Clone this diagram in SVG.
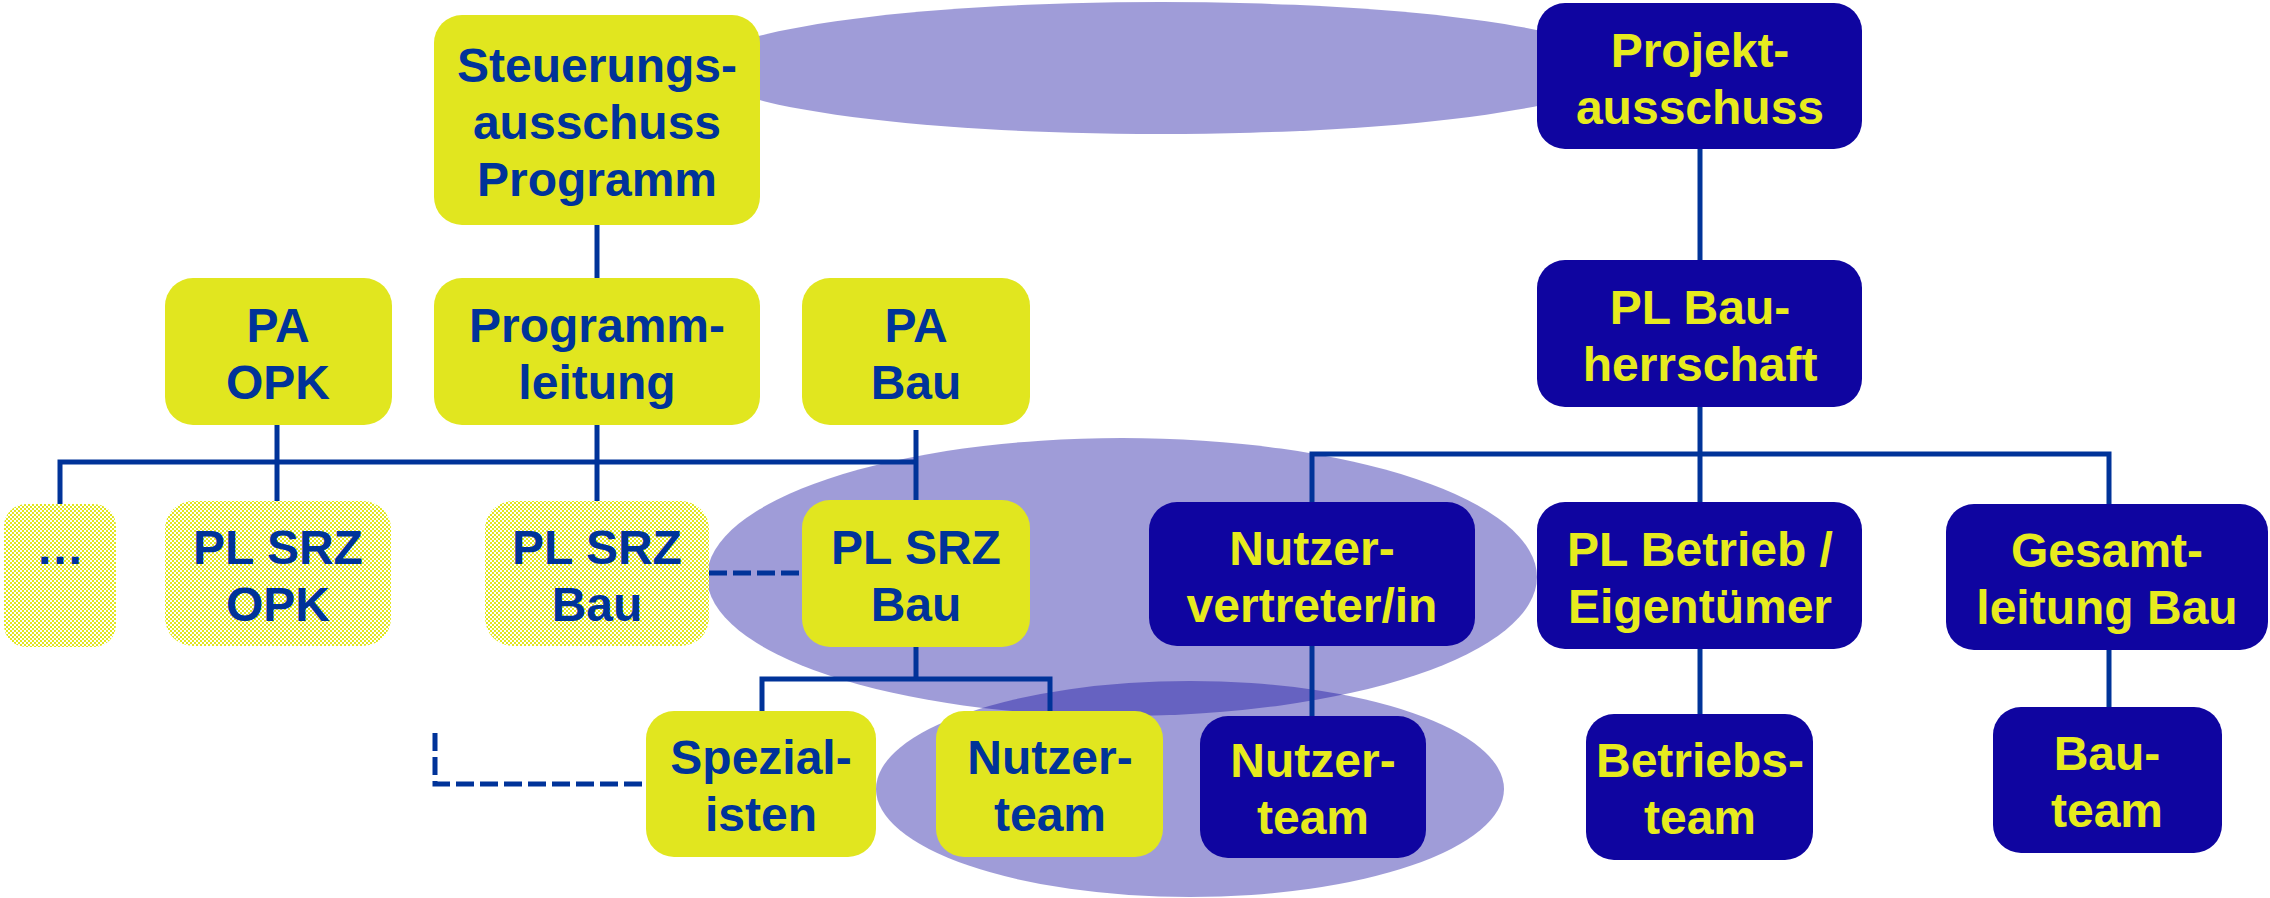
<svg xmlns="http://www.w3.org/2000/svg" width="2270" height="898" viewBox="0 0 2270 898">
<style>
.y{fill:#e1e61f}
.d{fill:#0f05a0}
.h{fill:url(#chk)}
.ty{font-family:"Liberation Sans",Arial,sans-serif;font-weight:bold;font-size:48px;fill:#003399;text-anchor:middle}
.td{font-family:"Liberation Sans",Arial,sans-serif;font-weight:bold;font-size:48px;fill:#e6eb1e;text-anchor:middle}
.c{stroke:#003399;stroke-width:5;fill:none}
.dash{stroke:#003399;stroke-width:5;fill:none;stroke-dasharray:18 6}
.e{fill:#170ea0;fill-opacity:0.41}
</style>
<defs>
<pattern id="chk" width="4" height="4" patternUnits="userSpaceOnUse">
<rect width="4" height="4" fill="#ffffff"/>
<rect width="2" height="2" fill="#e1e61f"/>
<rect x="2" y="2" width="2" height="2" fill="#e1e61f"/>
</pattern>
</defs>
<rect width="2270" height="898" fill="#ffffff"/>
<g id="backgrounds">
<ellipse class="e" cx="1161" cy="68" rx="460" ry="66"/>
<ellipse class="e" cx="1122" cy="577" rx="415" ry="139"/>
<ellipse class="e" cx="1190" cy="789" rx="314" ry="108"/>
</g>
<g id="connectors">
<path class="c" d="M597 225V278"/>
<path class="c" d="M60 504V462H916"/>
<path class="c" d="M277 425V501"/>
<path class="c" d="M597 425V501"/>
<path class="c" d="M916 430V500"/>
<path class="c" d="M916 647V679"/>
<path class="c" d="M762 711V679H1050V711"/>
<path class="dash" d="M709 573H802"/>
<path class="dash" d="M435 733V784H646"/>
<path class="c" d="M1700 149V260"/>
<path class="c" d="M1700 407V502"/>
<path class="c" d="M1312 502V454H2109V504"/>
<path class="c" d="M1312 646V716"/>
<path class="c" d="M1700 649V714"/>
<path class="c" d="M2109 650V707"/>
</g>
<g id="steuerungsausschuss"><rect class="y" x="434" y="15" width="326" height="210" rx="28"/>
<text class="ty" x="597" y="82">Steuerungs-</text><text class="ty" x="597" y="139">ausschuss</text><text class="ty" x="597" y="196">Programm</text></g>
<g id="pa-opk"><rect class="y" x="165" y="278" width="227" height="147" rx="28"/>
<text class="ty" x="278" y="342">PA</text><text class="ty" x="278" y="399">OPK</text></g>
<g id="programmleitung"><rect class="y" x="434" y="278" width="326" height="147" rx="28"/>
<text class="ty" x="597" y="342">Programm-</text><text class="ty" x="597" y="399">leitung</text></g>
<g id="pa-bau"><rect class="y" x="802" y="278" width="228" height="147" rx="28"/>
<text class="ty" x="916" y="342">PA</text><text class="ty" x="916" y="399">Bau</text></g>
<g id="weitere"><rect class="h" x="4" y="504" width="112" height="143" rx="22"/>
<text class="ty" x="60" y="564">…</text></g>
<g id="pl-srz-opk"><rect class="h" x="165" y="501" width="226" height="145" rx="28"/>
<text class="ty" x="278" y="564">PL SRZ</text><text class="ty" x="278" y="621">OPK</text></g>
<g id="pl-srz-bau-1"><rect class="h" x="485" y="501" width="224" height="145" rx="28"/>
<text class="ty" x="597" y="564">PL SRZ</text><text class="ty" x="597" y="621">Bau</text></g>
<g id="pl-srz-bau-2"><rect class="y" x="802" y="500" width="228" height="147" rx="28"/>
<text class="ty" x="916" y="564">PL SRZ</text><text class="ty" x="916" y="621">Bau</text></g>
<g id="spezialisten"><rect class="y" x="646" y="711" width="230" height="146" rx="28"/>
<text class="ty" x="761" y="774">Spezial-</text><text class="ty" x="761" y="831">isten</text></g>
<g id="nutzerteam-1"><rect class="y" x="936" y="711" width="227" height="146" rx="28"/>
<text class="ty" x="1050" y="774">Nutzer-</text><text class="ty" x="1050" y="831">team</text></g>
<g id="projektausschuss"><rect class="d" x="1537" y="3" width="325" height="146" rx="28"/>
<text class="td" x="1700" y="67">Projekt-</text><text class="td" x="1700" y="124">ausschuss</text></g>
<g id="pl-bauherrschaft"><rect class="d" x="1537" y="260" width="325" height="147" rx="28"/>
<text class="td" x="1700" y="324">PL Bau-</text><text class="td" x="1700" y="381">herrschaft</text></g>
<g id="nutzervertreter"><rect class="d" x="1149" y="502" width="326" height="144" rx="28"/>
<text class="td" x="1312" y="565">Nutzer-</text><text class="td" x="1312" y="622">vertreter/in</text></g>
<g id="pl-betrieb"><rect class="d" x="1537" y="502" width="325" height="147" rx="28"/>
<text class="td" x="1700" y="566">PL Betrieb /</text><text class="td" x="1700" y="623">Eigentümer</text></g>
<g id="gesamtleitung-bau"><rect class="d" x="1946" y="504" width="322" height="146" rx="28"/>
<text class="td" x="2107" y="567">Gesamt-</text><text class="td" x="2107" y="624">leitung Bau</text></g>
<g id="nutzerteam-2"><rect class="d" x="1200" y="716" width="226" height="142" rx="28"/>
<text class="td" x="1313" y="777">Nutzer-</text><text class="td" x="1313" y="834">team</text></g>
<g id="betriebsteam"><rect class="d" x="1586" y="714" width="227" height="146" rx="28"/>
<text class="td" x="1700" y="777">Betriebs-</text><text class="td" x="1700" y="834">team</text></g>
<g id="bauteam"><rect class="d" x="1993" y="707" width="229" height="146" rx="28"/>
<text class="td" x="2107" y="770">Bau-</text><text class="td" x="2107" y="827">team</text></g>
</svg>
